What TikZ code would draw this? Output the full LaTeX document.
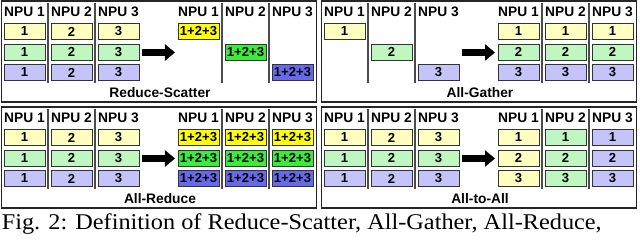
\documentclass[tikz,border=0pt]{standalone}
\usepackage{fontspec}
\newfontfamily\helv{Liberation Sans}
\newfontfamily\tims{Liberation Serif}
\usetikzlibrary{arrows.meta}

\definecolor{ylo}{RGB}{255,255,192}
\definecolor{grn}{RGB}{192,246,192}
\definecolor{blu}{RGB}{196,196,250}
\definecolor{yloB}{RGB}{255,255,0}
\definecolor{grnB}{RGB}{60,235,60}
\definecolor{bluB}{RGB}{104,104,236}

\begin{document}
\begin{tikzpicture}[x=0.025cm,y=-0.025cm,
  panel/.style={draw=black!85,line width=1pt},
  sep/.style={draw=black!70,line width=1pt},
  npu/.style={font=\helv\bfseries\fontsize{9.8}{11}\selectfont},
  blk/.style={draw=black!80,line width=0.6pt,minimum width=1.025cm,minimum height=0.4cm,
    inner sep=0pt,font=\helv\bfseries\fontsize{9.3}{11}\selectfont},
  bigarrow/.style={-{Triangle[length=0.25cm,width=0.4cm]},line width=0.19cm}]
  \useasboundingbox (0,0) rectangle (640,242);

  % Cadres, colonnes, en-tetes et fleches des quatre panneaux
  \foreach \ox/\oy/\p/\t in {0/0/rs/Reduce-Scatter,320/0/ag/All-Gather,0/106/ar/All-Reduce,320/106/aa/All-to-All}{
    \begin{scope}[shift={(\ox,\oy)}]
      \draw[panel] (1.5,1) rectangle (316.5,102);
      \foreach \sx in {48,95,222,269}
        \draw[sep] (\sx,3) -- (\sx,83);
      \foreach \c in {1,2,3}{
        \node[npu] (\p-hl\c) at ({24.5+47*(\c-1)},12) {NPU \c};
        \node[npu] (\p-hr\c) at ({198.5+47*(\c-1)},12) {NPU \c};
      }
      \node[npu] (\p-name) at (160,93) {\t};
      \coordinate (\p-from) at (142,52.5);
      \coordinate (\p-to) at (175,52.5);
      \draw[bigarrow] (\p-from) -- (\p-to);
    \end{scope}
  }

  % Etat initial complet (Reduce-Scatter, All-Reduce, All-to-All)
  \foreach \oy/\p in {0/rs,106/ar}{
    \foreach \c in {1,2,3}
      \foreach \r/\col in {1/ylo,2/grn,3/blu}
        \node[blk,fill=\col] (\p-l\c\r) at ({24.5+47*(\c-1)},{\oy+31.5+20.5*(\r-1)}) {\c};
  }
  \foreach \c in {1,2,3}
    \foreach \r/\col in {1/ylo,2/grn,3/blu}
      \node[blk,fill=\col] (aa-l\c\r) at ({344.5+47*(\c-1)},{137.5+20.5*(\r-1)}) {\c};

  % Reduce-Scatter : un bloc reduit par NPU
  \foreach \c/\col in {1/yloB,2/grnB,3/bluB}
    \node[blk,fill=\col] (rs-r\c) at ({198.5+47*(\c-1)},{31.5+20.5*(\c-1)}) {1+2+3};

  % All-Gather
  \foreach \c/\col in {1/ylo,2/grn,3/blu}{
    \node[blk,fill=\col] (ag-l\c) at ({344.5+47*(\c-1)},{31.5+20.5*(\c-1)}) {\c};
    \foreach \r in {1,2,3}
      \node[blk,fill=\col] (ag-r\r\c) at ({518.5+47*(\r-1)},{31.5+20.5*(\c-1)}) {\c};
  }

  % All-Reduce
  \foreach \c in {1,2,3}
    \foreach \r/\col in {1/yloB,2/grnB,3/bluB}
      \node[blk,fill=\col] (ar-r\c\r) at ({198.5+47*(\c-1)},{137.5+20.5*(\r-1)}) {1+2+3};

  % All-to-All
  \foreach \c/\col in {1/ylo,2/grn,3/blu}
    \foreach \r in {1,2,3}
      \node[blk,fill=\col] (aa-r\c\r) at ({518.5+47*(\c-1)},{137.5+20.5*(\r-1)}) {\r};

  % Legende (coupee en bas)
  \node[anchor=base west,inner sep=0pt,xscale=1.08,font=\tims\fontsize{16}{19}\selectfont] (cap) at (1.5,229.5)
    {Fig. 2: Definition of Reduce-Scatter, All-Gather, All-Reduce,};
\end{tikzpicture}
\end{document}
